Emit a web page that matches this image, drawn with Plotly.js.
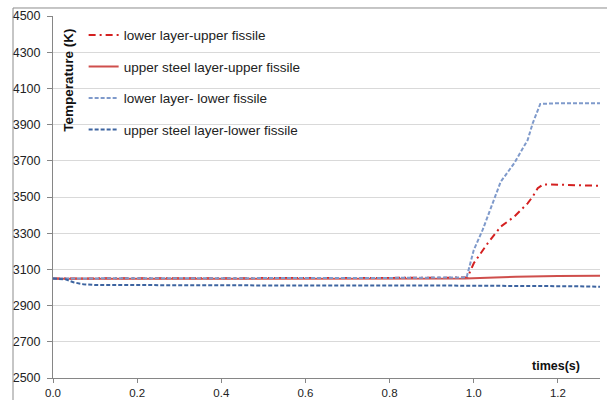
<!DOCTYPE html>
<html>
<head>
<meta charset="utf-8">
<script src="https://cdn.plot.ly/plotly-3.0.1.min.js"></script>
<style>
html,body{margin:0;padding:0;background:#fff;}
#chart{width:607px;height:400px;}
</style>
</head>
<body>
<div id="chart"></div>
<script>
// Data
const seriesNames = [
  "lower layer-upper fissile",
  "upper steel layer-upper fissile",
  "lower layer- lower fissile",
  "upper steel layer-lower fissile"
];
const t1 = [0, 0.2, 0.4, 0.6, 0.8, 0.985, 1.0, 1.033, 1.064, 1.096, 1.128, 1.14, 1.152, 1.165, 1.2, 1.25, 1.3];
const T1 = [3050, 3050, 3050, 3052, 3053, 3055, 3134, 3244, 3336, 3391, 3465, 3502, 3548, 3570, 3568, 3565, 3562];
const t2 = [0, 0.5, 0.98, 1.05, 1.1, 1.2, 1.3];
const T2 = [3048, 3048, 3050, 3055, 3060, 3063, 3065];
const t3 = [0, 0.2, 0.4, 0.6, 0.8, 0.983, 1.0, 1.021, 1.048, 1.064, 1.096, 1.128, 1.14, 1.158, 1.2, 1.25, 1.3];
const T3 = [3050, 3050, 3050, 3052, 3053, 3056, 3207, 3318, 3483, 3584, 3686, 3815, 3907, 4014, 4018, 4018, 4018];
const t4 = [0, 0.03, 0.05, 0.072, 0.1, 0.3, 0.6, 0.9, 1.1, 1.2, 1.24, 1.3];
const T4 = [3050, 3045, 3028, 3018, 3014, 3012, 3011, 3011, 3011, 3010, 3007, 3004];
const yTicks = [2500, 2700, 2900, 3100, 3300, 3500, 3700, 3900, 4100, 4300, 4500];
const xTicks = [0, 0.2, 0.4, 0.6, 0.8, 1.0, 1.2];
const xTickText = ["0.0", "0.2", "0.4", "0.6", "0.8", "1.0", "1.2"];

const font = "Liberation Sans, Arial, sans-serif";

const traces = [
  {x: t1, y: T1, name: seriesNames[0], mode: "lines", legendgroup: "a",
   line: {color: "#d42020", width: 2, dash: "7px,4px,2px,4px"}},
  {x: t2, y: T2, name: seriesNames[1], mode: "lines", legendgroup: "b",
   line: {color: "#cf4f4c", width: 2}},
  {x: t3, y: T3, name: seriesNames[2], mode: "lines", legendgroup: "c",
   line: {color: "#7f9acb", width: 2, dash: "4px,2px"}},
  {x: t4, y: T4, name: seriesNames[3], mode: "lines", legendgroup: "d",
   line: {color: "#3d64a0", width: 2, dash: "4px,2px"}}
];

const layout = {
  width: 607, height: 400,
  margin: {l: 53, r: 7, t: 16, b: 22},
  paper_bgcolor: "#ffffff", plot_bgcolor: "#ffffff",
  font: {family: font, size: 12, color: "#333"},
  showlegend: true,
  legend: {x: 0.056, y: 0.99, xanchor: "left", yanchor: "top",
           bgcolor: "rgba(0,0,0,0)", font: {family: font, size: 13.5, color: "#222"},
           traceorder: "grouped", tracegroupgap: 11, itemwidth: 30},
  xaxis: {range: [0, 1.3], tickvals: xTicks, ticktext: xTickText,
          showgrid: false, zeroline: false, showline: true, linecolor: "#868686",
          ticks: "outside", ticklen: 4, tickcolor: "#868686",
          ticklabelstandoff: 0,
          tickfont: {family: font, size: 11.5, color: "#222"}},
  yaxis: {range: [2500, 4500], tickvals: yTicks,
          showgrid: true, gridcolor: "#d9d9d9", zeroline: false,
          showline: true, linecolor: "#868686",
          ticks: "outside", ticklen: 5, tickcolor: "#868686",
          ticklabelstandoff: 4,
          tickfont: {family: font, size: 12.5, color: "#222"}},
  annotations: [
    {text: "<b>Temperature (K)</b>", xref: "paper", yref: "paper",
     x: 0.027, y: 0.823, xanchor: "center", yanchor: "middle",
     textangle: -90, showarrow: false,
     font: {family: font, size: 13.5, color: "#111"}},
    {text: "<b>times(s)</b>", xref: "paper", yref: "paper",
     x: 0.9196, y: 0.033, xanchor: "center", yanchor: "middle", showarrow: false,
     font: {family: font, size: 12.5, color: "#111"}}
  ],
  shapes: [
    {type: "rect", xref: "paper", yref: "paper",
     x0: -0.0731, x1: 1.05, y0: -0.2, y1: 1.0221,
     line: {color: "#8c8c8c", width: 1}, fillcolor: "rgba(0,0,0,0)", layer: "above"}
  ]
};

Plotly.newPlot("chart", traces, layout, {displayModeBar: false, staticPlot: true});
</script>
</body>
</html>
